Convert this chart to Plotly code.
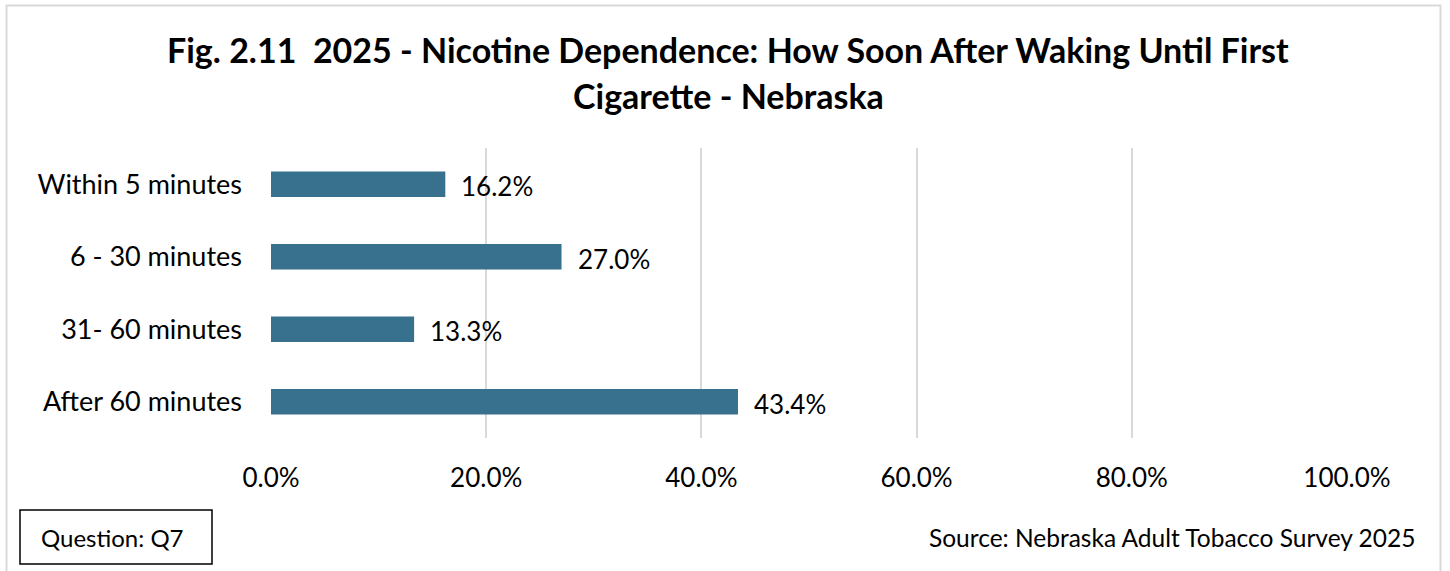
import plotly.graph_objects as go

categories = ["Within 5 minutes", "6 - 30 minutes", "31- 60 minutes", "After 60 minutes"]
values = [16.2, 27.0, 13.3, 43.4]
tick_vals = [0, 20, 40, 60, 80, 100]
tick_text = ["0.0%", "20.0%", "40.0%", "60.0%", "80.0%", "100.0%"]
title_lines = ["Fig. 2.11  2025 - Nicotine Dependence: How Soon After Waking Until First",
               "Cigarette - Nebraska"]
question_text = "Question: Q7"
source_text = "Source: Nebraska Adult Tobacco Survey 2025"

W, H = 1450, 571
L, R, T, B = 271, 1347, 148, 438
FONT = "Lato, Carlito, Calibri, sans-serif"
BAR = "#37718E"

def px(x):
    return (x - L) / (R - L)

def py(y):
    return (B - y) / (B - T)

fig = go.Figure(go.Bar(
    x=values, y=categories, orientation="h",
    marker=dict(color=BAR, line=dict(width=0)),
    width=0.35, hoverinfo="skip",
))

annotations = []
for c, v in zip(categories, values):
    annotations.append(dict(x=v, y=c, xref="x", yref="y", text=f"{v:.1f}%",
                            showarrow=False, xanchor="left", yanchor="middle",
                            xshift=14, yshift=-2, font=dict(size=26, color="#000000", family=FONT)))

annotations.append(dict(x=px(728), y=py(49), xref="paper", yref="paper", text=f"<b>{title_lines[0]}</b>",
                        showarrow=False, xanchor="center", yanchor="middle",
                        font=dict(size=34, color="#000000", family=FONT)))
annotations.append(dict(x=px(728), y=py(95), xref="paper", yref="paper", text=f"<b>{title_lines[1]}</b>",
                        showarrow=False, xanchor="center", yanchor="middle",
                        font=dict(size=34, color="#000000", family=FONT)))
annotations.append(dict(x=px(112), y=py(537), xref="paper", yref="paper", text=question_text,
                        showarrow=False, xanchor="center", yanchor="middle",
                        font=dict(size=24, color="#000000", family=FONT)))
annotations.append(dict(x=px(1417), y=py(537), xref="paper", yref="paper", text=source_text,
                        showarrow=False, xanchor="right", yanchor="middle",
                        font=dict(size=24.5, color="#000000", family=FONT)))

shapes = [
    dict(type="rect", xref="paper", yref="paper", x0=px(6.5), x1=px(1440.5), y0=py(5.5), y1=py(600),
         line=dict(color="#D9D9D9", width=2), fillcolor="rgba(0,0,0,0)", layer="below"),
    dict(type="rect", xref="paper", yref="paper", x0=px(20), x1=px(212), y0=py(510), y1=py(564),
         line=dict(color="#000000", width=1.5), fillcolor="rgba(0,0,0,0)"),
]

fig.update_layout(
    width=W, height=H,
    margin=dict(l=L, r=W - R, t=T, b=H - B, pad=0),
    paper_bgcolor="white", plot_bgcolor="white",
    showlegend=False,
    font=dict(family=FONT, color="#000000", size=26),
    annotations=annotations, shapes=shapes,
    xaxis=dict(range=[0, 100], tickvals=tick_vals, ticktext=tick_text,
               showgrid=True, gridcolor="#D9D9D9", gridwidth=2, zeroline=False,
               showline=False, ticks="", ticklabelstandoff=22,
               tickfont=dict(size=26, family=FONT, color="#000000"), fixedrange=True),
    yaxis=dict(autorange="reversed", showgrid=False, zeroline=False, showline=False,
               ticks="", ticklabelstandoff=28,
               tickfont=dict(size=27, family=FONT, color="#000000"), fixedrange=True),
)

fig.write_html("out.html", post_script="document.body.style.margin='0';", config={"displayModeBar": False})
